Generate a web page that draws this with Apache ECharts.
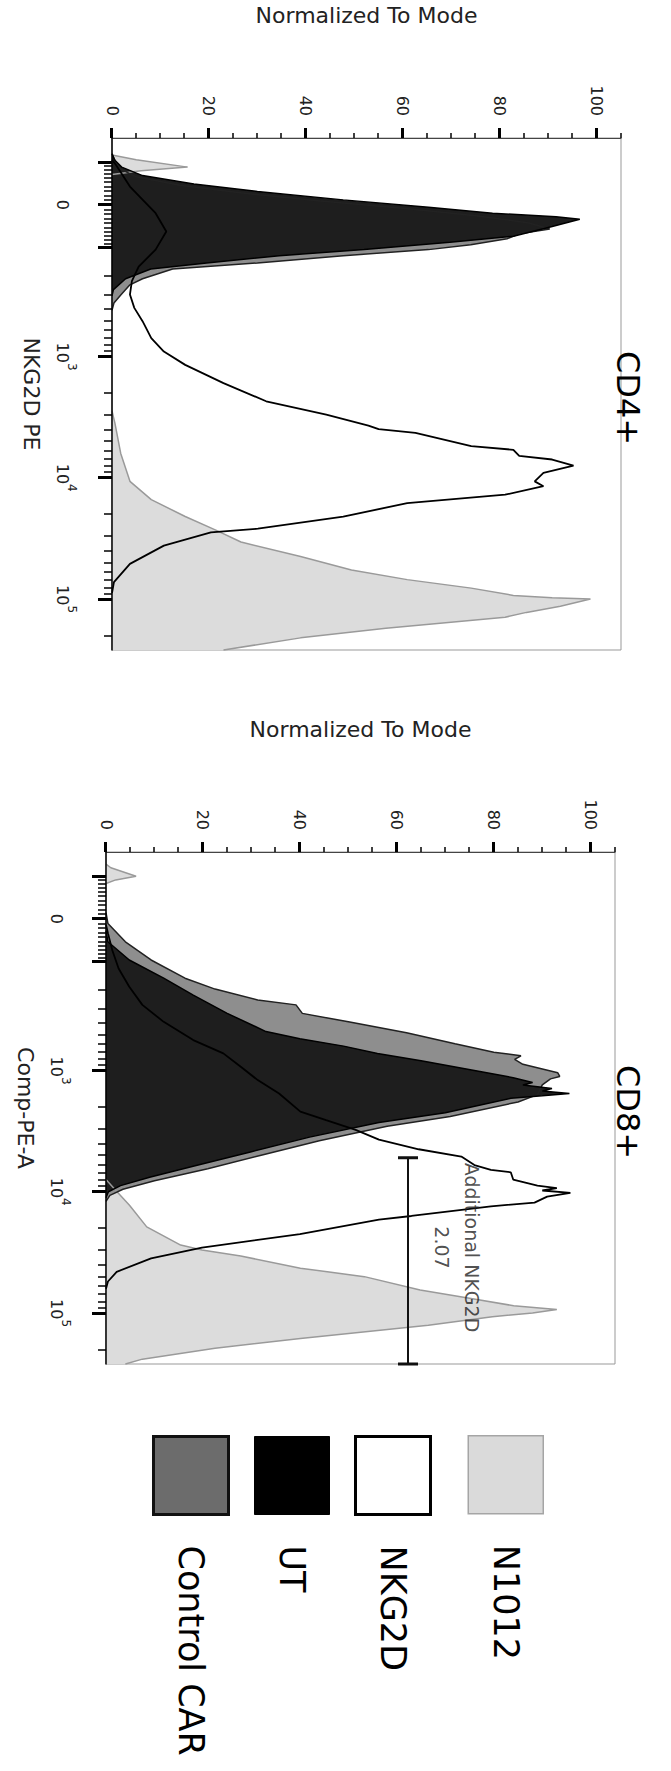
<!DOCTYPE html>
<html lang="en">
<head>
    <meta charset="UTF-8">
    <title>NKG2D expression CD4+ / CD8+</title>
    <script src="https://cdn.jsdelivr.net/npm/echarts@6/dist/echarts.min.js"></script>
    <style>
        html, body {
            margin: 0;
            padding: 0;
            background: #fff;
            overflow: hidden;
            width: 671px;
            height: 1771px;
        }
        /* the figure is laid out landscape and turned a quarter clockwise */
        #box {
            width: 1771px;
            height: 671px;
            position: absolute;
            left: 0;
            top: 0;
            transform-origin: 0 0;
            transform: translate(671px, 0) rotate(90deg);
        }
    </style>
</head>
<body>
<div id="box"></div>
<script>
    // x values are positions on the biexponential display scale (10^3 -> 3, 10^4 -> 4, 10^5 -> 5)
    // y values are % of mode

    // ---- CD4+ ----
    var cd4N1012 = [[1.34,0],[1.38,5],[1.44,15.6],[1.47,6],[1.50,0],[2.5,null],
        [3.45,0],[3.55,0.6],[3.8,1.8],[4.03,3.7],[4.18,8.1],[4.32,15.1],[4.43,21.3],[4.53,26.6],
        [4.65,38.9],[4.76,49.4],[4.84,60.9],[4.91,74.1],[4.97,82.8],[4.99,90.8],[5.00,98.7],
        [5.06,92.5],[5.11,85.5],[5.15,81.1],[5.24,56.5],[5.32,38.9],[5.42,23]];
    var cd4Car = [[1.33,0],[1.40,0.8],[1.45,1.5],[1.52,5],[1.59,14],[1.65,26],[1.72,43],[1.78,60],
        [1.84,75],[1.90,86],[1.95,90.3],[1.99,84],[2.03,81.5],[2.08,74],[2.12,65.3],[2.17,47.7],
        [2.23,30],[2.28,12.5],[2.36,6.3],[2.41,3.7],[2.49,1.9],[2.56,0.4],[2.62,0]];
    var cd4Ut = [[1.33,0],[1.38,0.5],[1.44,2],[1.51,6.3],[1.58,16.9],[1.64,30],[1.71,47.7],[1.77,65.3],
        [1.82,78.5],[1.85,91.6],[1.87,96.5],[1.93,90.8],[2.01,82.8],[2.06,69.7],[2.12,52],[2.17,34.5],
        [2.23,19.5],[2.28,8],[2.36,2.8],[2.45,0.3],[2.5,0]];
    var cd4Nkg2d = [[1.38,0],[1.42,0.8],[1.60,3.7],[1.82,9.0],[1.97,11.2],[2.12,9.0],[2.26,5.5],[2.38,4.1],
        [2.49,3.7],[2.60,4.6],[2.71,6.3],[2.85,8.1],[2.96,10.7],[3.07,15.1],[3.22,23.0],[3.37,31.8],
        [3.48,44.2],[3.57,52.9],[3.60,55],[3.63,62.6],[3.74,74.1],[3.77,82.8],[3.82,84],[3.85,90.8],
        [3.90,95.2],[3.96,89.0],[4.03,87.2],[4.07,89.0],[4.14,81.1],[4.21,60.9],[4.32,47.7],[4.42,30.1],
        [4.45,20.4],[4.56,10.7],[4.71,3.7],[4.86,0.4],[4.95,0]];

    // ---- CD8+ ----
    var cd8N1012 = [[1.30,0],[1.33,1],[1.40,6.2],[1.43,2],[1.46,0],[2.5,null],
        [3.9,0],[3.98,1.8],[4.11,4.8],[4.29,8.4],[4.44,15.4],[4.48,19.8],[4.53,27.8],[4.63,40.1],
        [4.70,53.3],[4.81,64.8],[4.88,75.3],[4.94,84.1],[4.97,93.0],[5.00,88],[5.03,79.7],[5.10,66.5],
        [5.21,40.1],[5.29,22.5],[5.38,7.5],[5.42,4]];
    var cd8Car = [[1.70,0],[1.79,0.4],[1.94,4],[2.09,9.3],[2.24,16.3],[2.33,22.5],[2.42,31.3],[2.46,39.2],
        [2.53,40.5],[2.60,50],[2.69,62],[2.78,72],[2.85,80],[2.88,85.6],[2.91,84.3],[2.95,86],[3.02,93.2],
        [3.05,93.6],[3.07,91.7],[3.12,90],[3.2,89],[3.26,85],[3.38,71],[3.46,58],[3.58,44],[3.70,32],
        [3.81,21],[3.91,10],[3.98,3.5],[4.03,0.8],[4.08,0]];
    var cd8Ut = [[1.85,0],[1.94,0.4],[2.09,4.8],[2.24,11.9],[2.38,18],[2.53,25],[2.68,33],[2.74,40],
        [2.80,49],[2.86,56],[2.92,65],[3.0,76],[3.06,84],[3.10,88],[3.12,86],[3.15,92],[3.17,90],
        [3.19,95.6],[3.21,90],[3.23,83.5],[3.35,70],[3.43,56.3],[3.55,42],[3.67,30],[3.78,19],[3.88,9],
        [3.95,3],[4.0,0.5],[4.05,0]];
    var cd8Nkg2d = [[1.80,0],[1.87,0.4],[2.01,1.3],[2.16,2.6],[2.31,4.8],[2.46,7.5],[2.60,11.9],[2.75,18],
        [2.86,24.2],[2.97,27.8],[3.08,31.3],[3.19,35.7],[3.34,40.1],[3.41,45.4],[3.49,51.5],[3.57,56.3],
        [3.65,64.5],[3.71,73.3],[3.78,76],[3.82,79.4],[3.84,83.5],[3.90,84],[3.95,89],[3.97,93],[3.99,90],
        [4.01,95.8],[4.04,91],[4.09,88.4],[4.12,79.4],[4.20,63],[4.23,56.3],[4.35,40],[4.46,19.8],
        [4.55,9.3],[4.66,2.2],[4.74,0.4],[4.8,0]];

    // gate "Additional NKG2D"
    var gateLine = [[3.72,62.3],[5.42,62.3]];
    var gateText = [[4.46,72.4]];

    // axes
    var valTicks = [0,20,40,60,80,100];
    var valMinor = [5,10,15,25,30,35,45,50,55,65,70,75,85,90,95,105];
    var fluorLabelRaw = [0,1000,10000,100000];
    var fluorLabelBase = ['0','10','10','10'];
    var fluorLabelExp = ['','3','4','5'];
    var fluorMajorRaw = [-100,0,100,1000,10000,100000];
    var fluorMinorRaw = [-90,-80,-70,-60,-50,-40,-30,-20,-10,10,20,30,40,50,60,70,80,90,
        200,300,400,500,600,700,800,900,2000,3000,4000,5000,6000,7000,8000,9000,
        20000,30000,40000,50000,60000,70000,80000,90000,200000];

    var legendNames = ['N1012','NKG2D','UT','Control CAR'];

    // biexponential display transform, 0 -> 1.75
    var C = Math.pow(10, 1.75);
    function disp(x) {
        return Math.log10((x + Math.sqrt(x * x + 4 * C * C)) / 2);
    }
    var fluorLabelPos = fluorLabelRaw.map(disp);

    var font = 'DejaVu Sans';
    var tMin = 1.2, tMax = 5.42, vMax = 105;

    function fluorAxes(grid, name) {
        return [{
            type: 'value', gridIndex: grid, position: 'bottom', min: tMin, max: tMax,
            name: name, nameLocation: 'middle', nameGap: 70,
            nameTextStyle: {fontFamily: font, fontSize: 22, color: '#222'},
            axisLine: {onZero: false, lineStyle: {color: '#000', width: 1.5}},
            axisTick: {customValues: fluorMajorRaw.map(disp), length: 14, lineStyle: {color: '#000', width: 3}},
            axisLabel: {
                customValues: fluorLabelPos, margin: 34, color: '#222', fontFamily: font,
                formatter: function (v) {
                    var k = 0;
                    for (var i = 1; i < fluorLabelPos.length; i++) {
                        if (Math.abs(fluorLabelPos[i] - v) < Math.abs(fluorLabelPos[k] - v)) k = i;
                    }
                    if (!fluorLabelExp[k]) return '{b|' + fluorLabelBase[k] + '}';
                    return '{b|' + fluorLabelBase[k] + '}{s|' + fluorLabelExp[k] + '}';
                },
                rich: {
                    b: {fontSize: 16, fontFamily: font, color: '#222', lineHeight: 24, verticalAlign: 'bottom'},
                    s: {fontSize: 12, fontFamily: font, color: '#222', lineHeight: 24, verticalAlign: 'top'}
                }
            },
            splitLine: {show: false}, z: 5
        }, {
            type: 'value', gridIndex: grid, position: 'bottom', min: tMin, max: tMax,
            axisLine: {show: false, onZero: false},
            axisTick: {customValues: fluorMinorRaw.map(disp), length: 8, lineStyle: {color: '#000', width: 1.5}},
            axisLabel: {show: false},
            splitLine: {show: false}, z: 5
        }];
    }

    function valueAxes(grid) {
        return [{
            type: 'value', gridIndex: grid, position: 'left', min: 0, max: vMax,
            name: 'Normalized To Mode', nameLocation: 'middle', nameGap: 112,
            nameTextStyle: {fontFamily: font, fontSize: 22, color: '#222'},
            axisLine: {show: true, onZero: false, lineStyle: {color: '#444', width: 1}},
            axisTick: {customValues: valTicks, length: 10, lineStyle: {color: '#000', width: 3}},
            axisLabel: {customValues: valTicks, margin: 22, fontSize: 16, color: '#222', fontFamily: font},
            splitLine: {show: false}, z: 5
        }, {
            type: 'value', gridIndex: grid, position: 'left', min: 0, max: vMax,
            axisLine: {show: false, onZero: false},
            axisTick: {customValues: valMinor, length: 5, lineStyle: {color: '#000', width: 1.5}},
            axisLabel: {show: false},
            splitLine: {show: false}, z: 5
        }];
    }

    function histSeries(name, data, xi, yi) {
        var st = {
            'N1012': {fill: '#dcdcdc', line: '#9a9a9a', w: 1.5},
            'Control CAR': {fill: '#8e8e8e', line: '#222', w: 1.5},
            'UT': {fill: '#1e1e1e', line: '#000', w: 1.5},
            'NKG2D': {fill: null, line: '#000', w: 1.8}
        }[name];
        return {
            name: name, type: 'line', xAxisIndex: xi, yAxisIndex: yi, data: data,
            symbol: 'none', showSymbol: false, smooth: false, connectNulls: false,
            lineStyle: {color: st.line, width: st.w},
            itemStyle: {color: st.fill || '#fff', borderColor: st.line},
            areaStyle: st.fill ? {color: st.fill, opacity: 1} : undefined,
            silent: true, z: 2
        };
    }

    var legendText = {fontFamily: font, fontSize: 35, color: '#000', padding: [0, 0, 0, 26]};
    var legendItems = [
        {name: legendNames[0], itemStyle: {color: '#dadada', borderColor: '#a5a5a5', borderWidth: 1.5}},
        {name: legendNames[1], itemStyle: {color: '#fff', borderColor: '#000', borderWidth: 3}},
        {name: legendNames[2], itemStyle: {color: '#000', borderColor: '#000', borderWidth: 1}},
        {name: legendNames[3], itemStyle: {color: '#6c6c6c', borderColor: '#111', borderWidth: 3}}
    ];

    var chart = echarts.init(document.getElementById('box'), null, {renderer: 'svg'});

    var option = {
        animation: false,
        backgroundColor: '#fff',
        title: [
            {text: 'CD4+', left: 393, top: 22, textAlign: 'center',
             textStyle: {fontFamily: font, fontSize: 32, fontWeight: 'normal', color: '#000'}},
            {text: 'CD8+', left: 1107, top: 22, textAlign: 'center',
             textStyle: {fontFamily: font, fontSize: 32, fontWeight: 'normal', color: '#000'}}
        ],
        grid: [
            {left: 138, top: 50, width: 512, height: 509, show: true, borderColor: '#999', borderWidth: 1},
            {left: 852, top: 56, width: 512, height: 509, show: true, borderColor: '#999', borderWidth: 1}
        ],
        xAxis: fluorAxes(0, 'NKG2D PE').concat(fluorAxes(1, 'Comp-PE-A')),
        yAxis: valueAxes(0).concat(valueAxes(1)),
        legend: [{
            orient: 'vertical', left: 1430, top: 122,
            itemWidth: 78, itemHeight: 75, itemGap: 23,
            selectedMode: false, icon: 'rect', textStyle: legendText,
            data: legendItems.slice(0, 1)
        }, {
            orient: 'vertical', left: 1430, top: 234,
            itemWidth: 78, itemHeight: 75, itemGap: 24,
            selectedMode: false, icon: 'rect', textStyle: legendText,
            data: legendItems.slice(1)
        }],
        series: [
            histSeries('N1012', cd4N1012, 0, 0),
            histSeries('Control CAR', cd4Car, 0, 0),
            histSeries('UT', cd4Ut, 0, 0),
            histSeries('NKG2D', cd4Nkg2d, 0, 0),
            histSeries('N1012', cd8N1012, 2, 2),
            histSeries('Control CAR', cd8Car, 2, 2),
            histSeries('UT', cd8Ut, 2, 2),
            histSeries('NKG2D', cd8Nkg2d, 2, 2),
            {
                name: 'gate', type: 'line', xAxisIndex: 2, yAxisIndex: 2, data: gateLine,
                symbol: 'rect', symbolSize: [3, 20], showSymbol: true,
                lineStyle: {color: '#111', width: 2}, itemStyle: {color: '#111'},
                silent: true, z: 6
            },
            {
                name: 'gateLabel', type: 'scatter', xAxisIndex: 2, yAxisIndex: 2, data: gateText,
                symbolSize: 0, silent: true, z: 7,
                label: {
                    show: true, position: 'inside', formatter: 'Additional NKG2D\n2.07',
                    fontFamily: font, fontSize: 19, lineHeight: 30, color: '#222', align: 'center'
                }
            }
        ]
    };
    chart.setOption(option);
</script>
</body>
</html>
